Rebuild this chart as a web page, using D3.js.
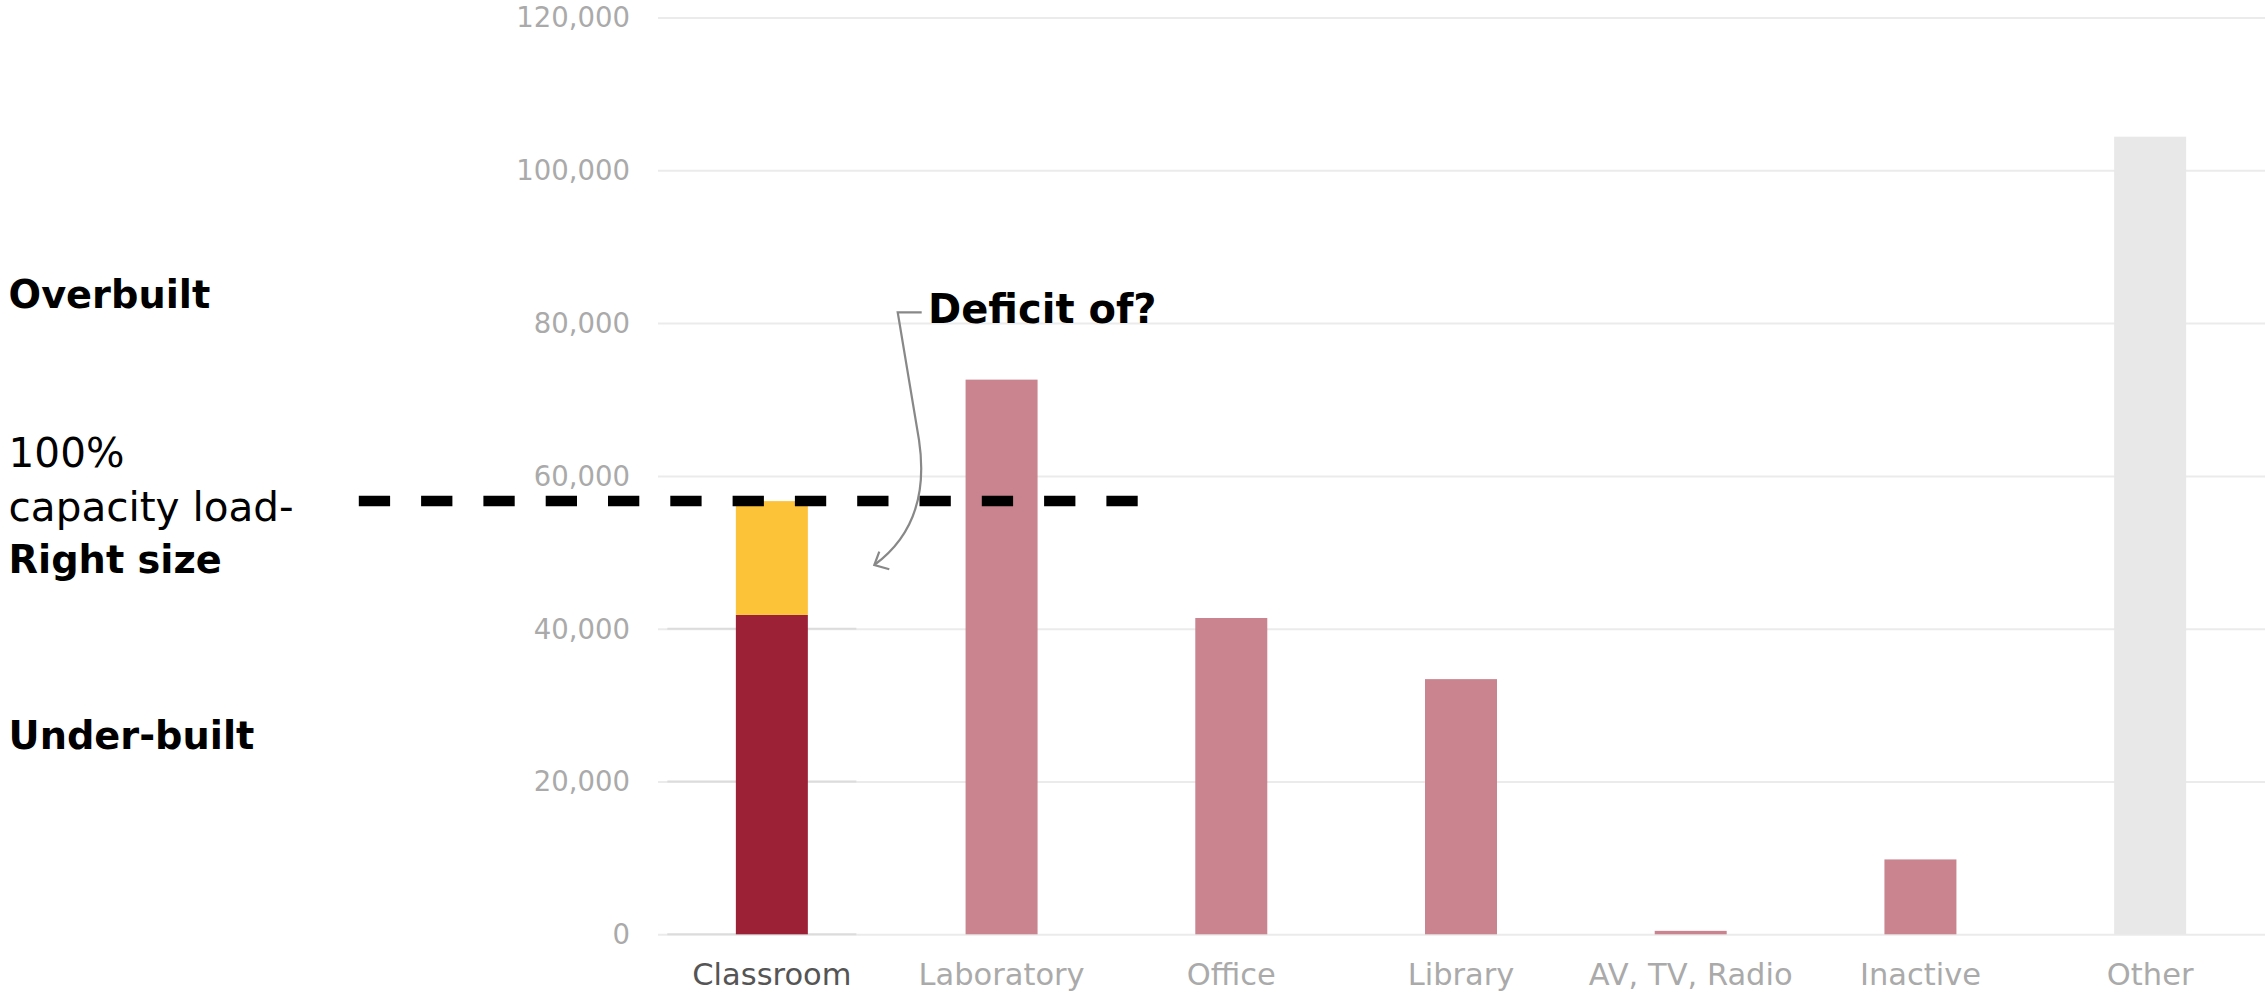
<!DOCTYPE html>
<html>
<head>
<meta charset="utf-8">
<script src="https://cdn.jsdelivr.net/npm/d3@7"></script>
<style>
  html, body { margin: 0; padding: 0; background: #fff; }
  svg { display: block; }
  text { font-family: "DejaVu Sans", "Liberation Sans", sans-serif; }
</style>
</head>
<body>
<svg id="chart" width="2268" height="995"></svg>
<script>
// ---------- data ----------
const categories = ["Classroom", "Laboratory", "Office", "Library", "AV, TV, Radio", "Inactive", "Other"];
const spaceValues = [41800, 72600, 41400, 33400, 450, 9800, 104400];
const classroomDeficit = 14900;          // yellow segment stacked on the Classroom bar
const capacityLoad = 56700;              // 100% capacity load line
const yTickValues = [0, 20000, 40000, 60000, 80000, 100000, 120000];
const sideLabels = [
  { text: "Overbuilt", bold: true },
  { text: "100%", bold: false },
  { text: "capacity load-", bold: false },
  { text: "Right size", bold: true },
  { text: "Under-built", bold: true }
];

// ---------- layout ----------
const W = 2268, H = 995;
const plotLeft = 657, plotRight = 2265, plotTop = 17.5, plotBottom = 934.3;
const svg = d3.select("#chart");

const x = d3.scaleBand().domain(categories).range([plotLeft, plotRight])
  .paddingInner(0.6866).paddingOuter(0.3433);
const y = d3.scaleLinear().domain([0, 120000]).range([plotBottom, plotTop]);

const colorFor = d3.scaleOrdinal().domain(categories)
  .range(["#9c2136", "#c9848f", "#c9848f", "#c9848f", "#c9848f", "#c9848f", "#e8e8e8"]);

// ---------- grid + y axis ----------
const yAxis = svg.append("g")
  .attr("transform", `translate(${plotLeft + 1},0)`)
  .call(d3.axisLeft(y).tickValues(yTickValues).tickFormat(d3.format(",")).tickSize(-(plotRight - plotLeft - 1)).tickPadding(28));
yAxis.select(".domain").remove();
yAxis.selectAll(".tick line").attr("stroke", "#ebebeb").attr("stroke-width", 2);
yAxis.selectAll(".tick text")
  .attr("fill", "#aaaaaa").attr("font-size", 27.5).attr("dy", "0.34em");

// darker highlight of grid around Classroom column (lines up to the capacity line)
const cx0 = x("Classroom") + x.bandwidth() / 2;
svg.append("g").selectAll("line")
  .data(yTickValues.filter(v => v <= capacityLoad))
  .join("line")
  .attr("x1", cx0 - 104.5).attr("x2", cx0 + 84.5)
  .attr("y1", d => y(d)).attr("y2", d => y(d))
  .attr("stroke", "#dcdcdc").attr("stroke-width", 2);

// ---------- bars ----------
const barData = categories.map((c, i) => ({ cat: c, v: spaceValues[i] }));
svg.append("g").selectAll("rect")
  .data(barData)
  .join("rect")
  .attr("x", d => x(d.cat))
  .attr("width", x.bandwidth())
  .attr("y", d => y(d.v))
  .attr("height", d => y(0) - y(d.v))
  .attr("fill", d => colorFor(d.cat));

// deficit segment
svg.append("rect")
  .attr("x", x("Classroom"))
  .attr("width", x.bandwidth())
  .attr("y", y(spaceValues[0] + classroomDeficit))
  .attr("height", y(spaceValues[0]) - y(spaceValues[0] + classroomDeficit))
  .attr("fill", "#fdc338");

// ---------- x axis ----------
const xAxis = svg.append("g")
  .attr("transform", `translate(0,${plotBottom})`)
  .call(d3.axisBottom(x).tickSize(0).tickPadding(0));
xAxis.select(".domain").remove();
xAxis.selectAll(".tick text")
  .attr("y", 51).attr("dy", 0)
  .attr("font-size", 30.5)
  .attr("fill", d => d === "Classroom" ? "#555555" : "#aaaaaa");

// ---------- capacity line ----------
svg.append("line")
  .attr("x1", 358.8).attr("x2", 1140)
  .attr("y1", y(capacityLoad)).attr("y2", y(capacityLoad))
  .attr("stroke", "#000").attr("stroke-width", 10.5)
  .attr("stroke-dasharray", "31.3,31");

// ---------- side labels ----------
const sideY = [308, 467, 521, 573, 749];
svg.append("g").selectAll("text")
  .data(sideLabels)
  .join("text")
  .attr("x", 8.6)
  .attr("y", (d, i) => sideY[i])
  .attr("font-size", d => d.bold ? 38.3 : 40.5)
  .attr("font-weight", d => d.bold ? "bold" : "normal")
  .attr("fill", "#000")
  .text(d => d.text);

// ---------- annotation ----------
svg.append("text")
  .attr("x", 928).attr("y", 323)
  .attr("font-size", 40).attr("font-weight", "bold").attr("fill", "#000")
  .text("Deficit of?");
svg.append("path")
  .attr("d", "M921.7,312.3 H897.7 L919,440 C925,480 922,530 874.3,565")
  .attr("fill", "none").attr("stroke", "#888").attr("stroke-width", 2.2);
svg.append("path")
  .attr("d", "M879.3,551.7 L874.3,565 L889.3,569.3")
  .attr("fill", "none").attr("stroke", "#888").attr("stroke-width", 2.2);
</script>
</body>
</html>
